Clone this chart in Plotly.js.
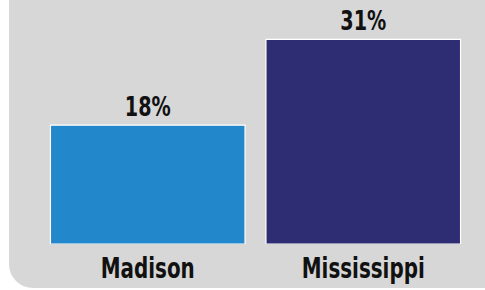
<!DOCTYPE html>
<html>
<head>
<meta charset="utf-8">
<script src="https://cdn.plot.ly/plotly-3.0.1.min.js"></script>
<style>
  html, body { margin: 0; padding: 0; background: #ffffff; }
  #bg { position: absolute; left: 9px; top: 0; width: 476px; height: 288px; background: #d7d7d7; border-bottom-left-radius: 24px; }
  #chart { position: absolute; left: 0; top: 0; width: 485px; height: 290px; }
</style>
</head>
<body>
<div id="bg"></div>
<div id="chart"></div>
<script>
const categories = ["Madison", "Mississippi"];
const values = [18, 31];
const barColors = ["#2288cb", "#2e2d73"];

const font = "'DejaVu Sans Condensed', 'Liberation Sans Narrow', sans-serif";

Plotly.newPlot("chart", [{
  type: "bar",
  x: categories,
  y: values,
  marker: { color: barColors, line: { color: "#ffffff", width: 1.2 } },
  width: 0.903,
  text: values.map(v => v + "%"),
  textposition: "outside",
  textfont: { family: font, size: 27, color: "#111111", weight: "bold" },
  cliponaxis: false,
  hoverinfo: "none"
}], {
  width: 485, height: 290,
  margin: { l: 39.5, r: 13.5, t: 12.6, b: 46 },
  paper_bgcolor: "rgba(0,0,0,0)",
  plot_bgcolor: "rgba(0,0,0,0)",
  showlegend: false,
  xaxis: {
    type: "category", range: [-0.5, 1.5], showgrid: false, zeroline: false, showline: false, ticks: "",
    ticklabelstandoff: 5,
    tickfont: { family: font, size: 28, color: "#111111", weight: "bold" }
  },
  yaxis: { range: [0, 35], visible: false, showgrid: false, zeroline: false },
  font: { family: font }
}, { displayModeBar: false, staticPlot: true }).then(function (gd) {
  // condense text horizontally to mimic a narrow bold typeface
  const s = 0.79;
  gd.querySelectorAll("text.bartext, g.xtick text").forEach(function (t) {
    const x = parseFloat(t.getAttribute("x")) || 0;
    const y = parseFloat(t.getAttribute("y")) || 0;
    const tr = t.getAttribute("transform") || "";
    t.setAttribute("transform", tr + " translate(" + x + "," + y + ") scale(" + s + ",1) translate(" + (-x) + "," + (-y) + ")");
  });
});
</script>
</body>
</html>
